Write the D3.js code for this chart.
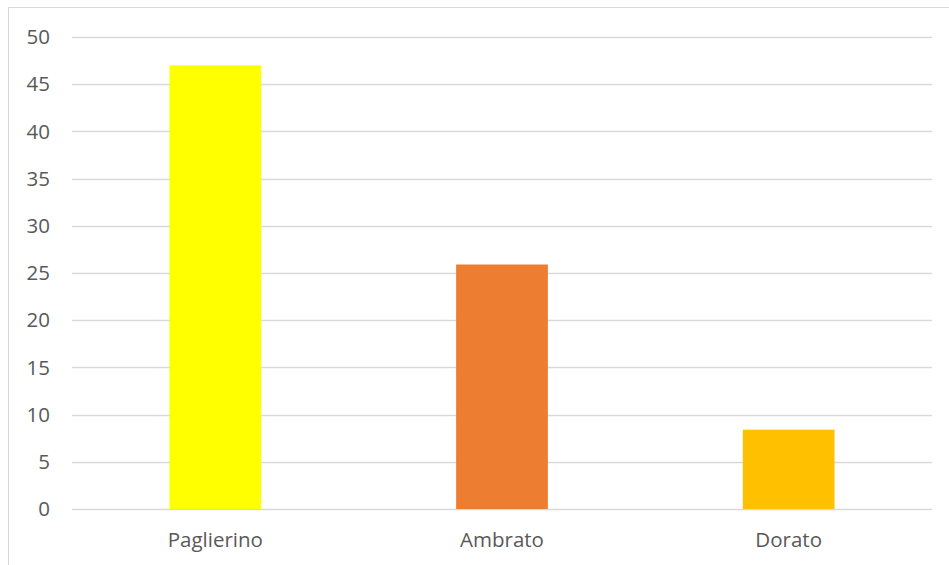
<!DOCTYPE html>
<html>
<head>
<meta charset="utf-8">
<script src="https://cdn.jsdelivr.net/npm/d3@7"></script>
<style>
  body { margin: 0; background: #fff; }
  text { font-family: "Open Sans", sans-serif; }
</style>
</head>
<body>
<svg id="chart"></svg>
<script>
// data
const categories = ["Paglierino", "Ambrato", "Dorato"]
const values = [47, 25.9, 8.4]
const barColors = ["#ffff00", "#ed7d31", "#ffc000"]
const yTicks = [0, 5, 10, 15, 20, 25, 30, 35, 40, 45, 50]

const width = 949
const height = 565
const plotLeft = 72, plotRight = 932, plotTop = 37, plotBottom = 509

const svg = d3.select("#chart")
  .attr("width", width)
  .attr("height", height)

// outer frame (only top and left visible in the picture)
svg.append("rect")
  .attr("x", 8.5).attr("y", 7.5)
  .attr("width", width + 10).attr("height", height + 10)
  .attr("fill", "none")
  .attr("stroke", "#d9d9d9")
  .attr("stroke-width", 1)

const x = d3.scaleBand()
  .domain(categories)
  .range([plotLeft, plotRight])
  .paddingInner(0.68)
  .paddingOuter(0.34)

const y = d3.scaleLinear()
  .domain([0, 50])
  .range([plotBottom, plotTop])

// gridlines
svg.append("g")
  .selectAll("line")
  .data(yTicks)
  .join("line")
    .attr("x1", plotLeft).attr("x2", plotRight)
    .attr("y1", d => Math.round(y(d)) + 0.5)
    .attr("y2", d => Math.round(y(d)) + 0.5)
    .attr("stroke", "#d9d9d9")
    .attr("stroke-width", 1.5)

// y tick labels
svg.append("g")
  .selectAll("text")
  .data(yTicks)
  .join("text")
    .attr("x", 50)
    .attr("y", d => y(d))
    .attr("dy", "0.35em")
    .attr("text-anchor", "end")
    .attr("fill", "#595959")
    .style("font-size", "20.5px")
    .text(d => d)

// bars
svg.append("g")
  .selectAll("rect")
  .data(values)
  .join("rect")
    .attr("x", (d, i) => x(categories[i]))
    .attr("y", d => y(d))
    .attr("width", x.bandwidth())
    .attr("height", d => y(0) - y(d))
    .attr("fill", (d, i) => barColors[i])

// category labels
svg.append("g")
  .selectAll("text")
  .data(categories)
  .join("text")
    .attr("x", d => x(d) + x.bandwidth() / 2)
    .attr("y", 547)
    .attr("text-anchor", "middle")
    .attr("fill", "#595959")
    .style("font-size", "20.5px")
    .text(d => d)
</script>
</body>
</html>
